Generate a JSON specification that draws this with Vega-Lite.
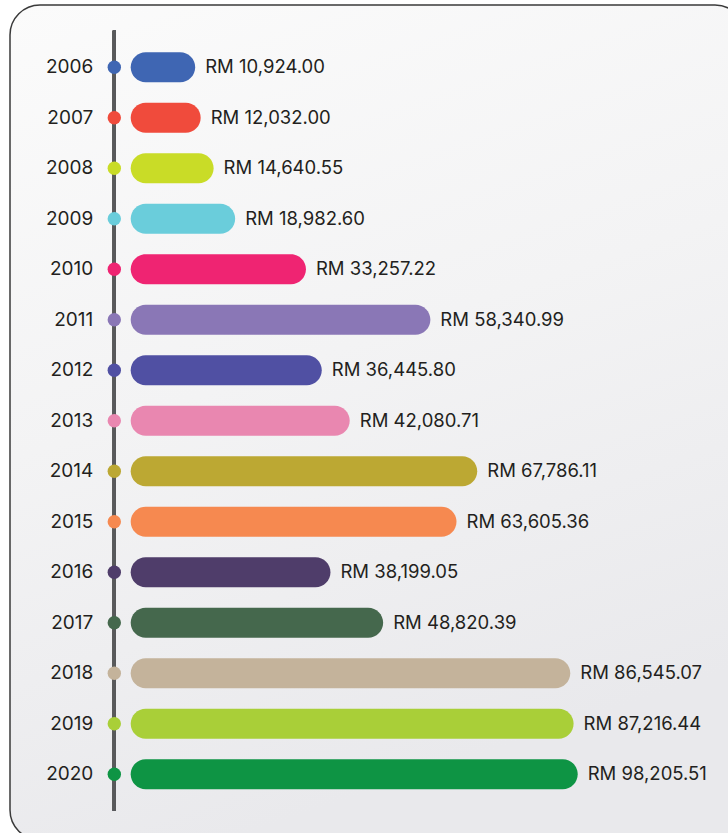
{
  "$schema": "https://vega.github.io/schema/vega-lite/v6.json",
  "width": 735,
  "height": 835,
  "autosize": "none",
  "padding": {"left": 10, "top": 5, "right": 0, "bottom": 0},
  "background": "#ffffff",
  "config": {
    "view": {
      "stroke": "#3a3a3a",
      "strokeWidth": 1.5,
      "cornerRadius": 30,
      "fill": {"gradient": "linear", "x1": 0, "y1": 0, "x2": 0.3, "y2": 1, "stops": [{"offset": 0, "color": "#fbfbfb"}, {"offset": 0.5, "color": "#f3f3f4"}, {"offset": 1, "color": "#e9e9ec"}]}
    },
    "text": {"font": "Inter", "color": "#231f20", "fontWeight": 400}
  },
  "data": {
    "values": [
      {"year": "2006", "value": 10924.00, "label": "RM 10,924.00"},
      {"year": "2007", "value": 12032.00, "label": "RM 12,032.00"},
      {"year": "2008", "value": 14640.55, "label": "RM 14,640.55"},
      {"year": "2009", "value": 18982.60, "label": "RM 18,982.60"},
      {"year": "2010", "value": 33257.22, "label": "RM 33,257.22"},
      {"year": "2011", "value": 58340.99, "label": "RM 58,340.99"},
      {"year": "2012", "value": 36445.80, "label": "RM 36,445.80"},
      {"year": "2013", "value": 42080.71, "label": "RM 42,080.71"},
      {"year": "2014", "value": 67786.11, "label": "RM 67,786.11"},
      {"year": "2015", "value": 63605.36, "label": "RM 63,605.36"},
      {"year": "2016", "value": 38199.05, "label": "RM 38,199.05"},
      {"year": "2017", "value": 48820.39, "label": "RM 48,820.39"},
      {"year": "2018", "value": 86545.07, "label": "RM 86,545.07"},
      {"year": "2019", "value": 87216.44, "label": "RM 87,216.44"},
      {"year": "2020", "value": 98205.51, "label": "RM 98,205.51"}
    ]
  },
  "layer": [
    {
      "mark": {"type": "rule", "color": "#58595b", "strokeWidth": 3, "xOffset": -26.7, "x2Offset": -26.7, "yOffset": -36.6, "y2Offset": 36.4},
      "encoding": {
        "x": {"datum": 0, "type": "quantitative", "axis": null, "scale": {"domain": [-26411, 88044], "range": [0, 567.7], "clamp": true, "nice": false, "zero": false}},
        "y": {"datum": "2006", "type": "ordinal", "axis": null, "scale": {"range": [37.05, 794.55], "paddingInner": 0.406, "paddingOuter": 0.203}},
        "y2": {"datum": "2020"}
      }
    },
    {
      "mark": {"type": "bar", "cornerRadius": 15, "x2Offset": -10.3},
      "encoding": {
        "y": {"field": "year", "type": "ordinal", "axis": null},
        "x": {"field": "value", "type": "quantitative", "axis": null},
        "x2": {"datum": 0},
        "color": {"field": "year", "type": "ordinal", "legend": null, "scale": {"domain": ["2006","2007","2008","2009","2010","2011","2012","2013","2014","2015","2016","2017","2018","2019","2020"], "range": ["#3f66b3","#f04b3c","#c9dc27","#6acddb","#ef2472","#8a77b6","#5050a3","#e987b0","#bca833","#f68950","#4f3d6a","#45684d","#c4b39b","#a9cf38","#0e9444"]}}
      }
    },
    {
      "mark": {"type": "circle", "size": 180, "opacity": 1, "xOffset": -26.7},
      "encoding": {
        "y": {"field": "year", "type": "ordinal", "axis": null},
        "x": {"datum": 0, "type": "quantitative", "axis": null},
        "color": {"field": "year", "type": "ordinal", "legend": null}
      }
    },
    {
      "mark": {"type": "text", "align": "right", "baseline": "middle", "fontSize": 19, "xOffset": -47.7},
      "encoding": {
        "y": {"field": "year", "type": "ordinal", "axis": null},
        "x": {"datum": 0, "type": "quantitative", "axis": null},
        "text": {"field": "year"}
      }
    },
    {
      "mark": {"type": "text", "align": "left", "baseline": "middle", "fontSize": 18.5, "dx": 10},
      "encoding": {
        "y": {"field": "year", "type": "ordinal", "axis": null},
        "x": {"field": "value", "type": "quantitative", "axis": null},
        "text": {"field": "label"}
      }
    }
  ]
}
